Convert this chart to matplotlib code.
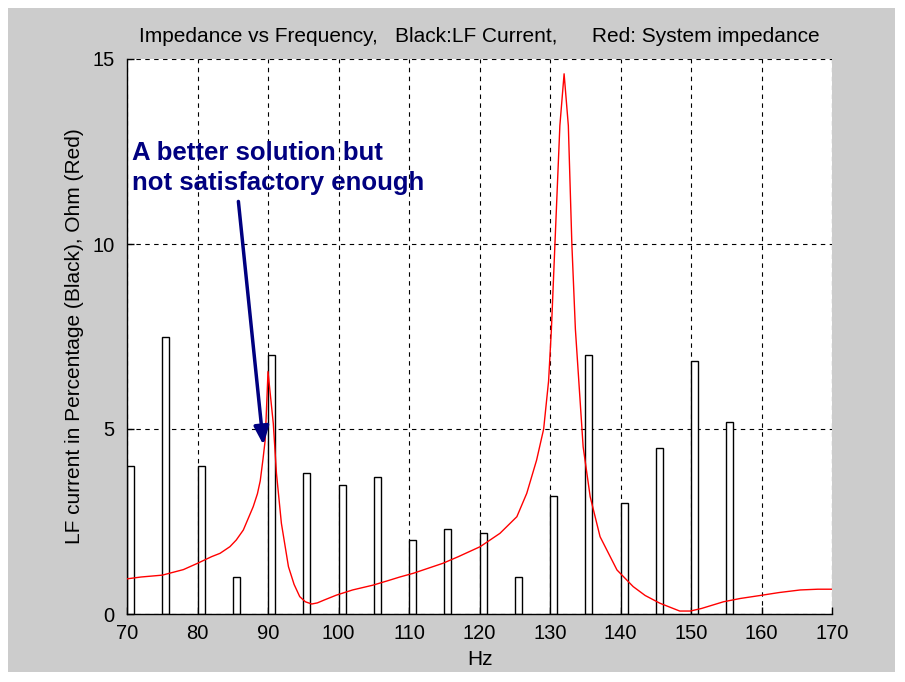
import matplotlib
matplotlib.use('Agg')
import matplotlib.pyplot as plt
from matplotlib.patches import Rectangle

plt.rcParams['font.family'] = ['Liberation Sans', 'DejaVu Sans']

# LF current harmonics (percent), one bar every 5 Hz
freqs = [70, 75, 80, 85, 90, 95, 100, 105, 110, 115, 120, 125, 130, 135, 140, 145, 150, 155]
current = [4.0, 7.5, 4.0, 1.0, 7.0, 3.8, 3.5, 3.7, 2.0, 2.3, 2.2, 1.0, 3.2, 7.0, 3.0, 4.5, 6.85, 5.2]

# system impedance (ohm) vs frequency
z_freq = [70, 72, 75, 78, 80, 82, 83.2, 84.6, 85.5, 86.5, 87.9, 88.5, 88.9, 89.3, 89.6, 89.8,
          90.0, 90.4, 90.75, 91.2, 91.9, 92.9, 93.7, 94.5, 95.3, 96.2, 97.0, 98.0, 99.7,
          102, 104.9, 107, 108.7, 110.6, 114.8, 117, 120.1, 122.9, 125.3, 126.7, 128.1,
          129.1, 129.8, 130.2, 130.7, 131.4, 132.0, 132.6, 133.1, 133.6, 134.7, 135.7,
          137.1, 139.5, 141.8, 143.5, 145.6, 148.4, 149.9, 151.5, 154.6, 157, 159.8,
          162.5, 165.5, 168, 170]
z_ohm = [0.95, 1.0, 1.05, 1.2, 1.37, 1.55, 1.64, 1.82, 2.0, 2.27, 2.9, 3.25, 3.6, 4.2, 4.7, 5.6,
         6.55, 5.8, 5.15, 3.8, 2.45, 1.28, 0.8, 0.47, 0.33, 0.27, 0.3, 0.38, 0.51,
         0.65, 0.78, 0.9, 1.0, 1.1, 1.37, 1.55, 1.82, 2.18, 2.63, 3.26, 4.16,
         5.0, 6.3, 7.7, 10.0, 13.2, 14.6, 13.2, 10.0, 7.7, 4.52, 3.17,
         2.09, 1.19, 0.74, 0.5, 0.29, 0.08, 0.08, 0.15, 0.33, 0.42, 0.5,
         0.58, 0.65, 0.67, 0.67]

xticks = list(range(70, 171, 10))
yticks = [0, 5, 10, 15]

fig = plt.figure(figsize=(9.05, 6.82), dpi=100, facecolor='white')
fig.patches.append(Rectangle((8 / 905, 10 / 682), 887 / 905, 664 / 682,
                             transform=fig.transFigure, facecolor='#cccccc',
                             edgecolor='none', zorder=-10))
ax = fig.add_axes([127 / 905, 1 - 614 / 682, 705 / 905, 555 / 682])

ax.bar(freqs, current, width=1.0, align='edge', facecolor='white',
       edgecolor='black', linewidth=1.0, zorder=2)
ax.plot(z_freq, z_ohm, color='red', linewidth=1.0, zorder=3)

ax.set_xlim(70, 170)
ax.set_ylim(0, 15)
ax.set_xticks(xticks)
ax.set_yticks(yticks)
ax.grid(True, color='black', linestyle=(0, (4, 4)), linewidth=0.8, zorder=1)
ax.set_axisbelow(True)

for s in ['top', 'right']:
    ax.spines[s].set_visible(False)
for s in ['left', 'bottom']:
    ax.spines[s].set_linewidth(1.0)
ax.tick_params(direction='in', length=5, width=1.0, labelsize=14.5, pad=7)
ax.tick_params(axis='y', pad=9)

ax.set_title('Impedance vs Frequency,   Black:LF Current,      Red: System impedance',
             fontsize=15, pad=12)
ax.set_xlabel('Hz', fontsize=15, labelpad=5)
ax.set_ylabel('LF current in Percentage (Black), Ohm (Red)', fontsize=15, labelpad=6)

ax.annotate('', xy=(89.35, 4.57), xytext=(85.8, 11.15),
            arrowprops=dict(arrowstyle='-|>,head_length=1.1,head_width=0.45',
                            color='#000080', linewidth=2.5, shrinkA=0, shrinkB=0),
            zorder=5)
ax.text(70.7, 12.05, 'A better solution but\nnot satisfactory enough', color='#000080',
        fontsize=18.5, fontweight='bold',
        va='center', ha='left', linespacing=1.3, zorder=5)

fig.savefig('out.png', dpi=100, facecolor=fig.get_facecolor())
